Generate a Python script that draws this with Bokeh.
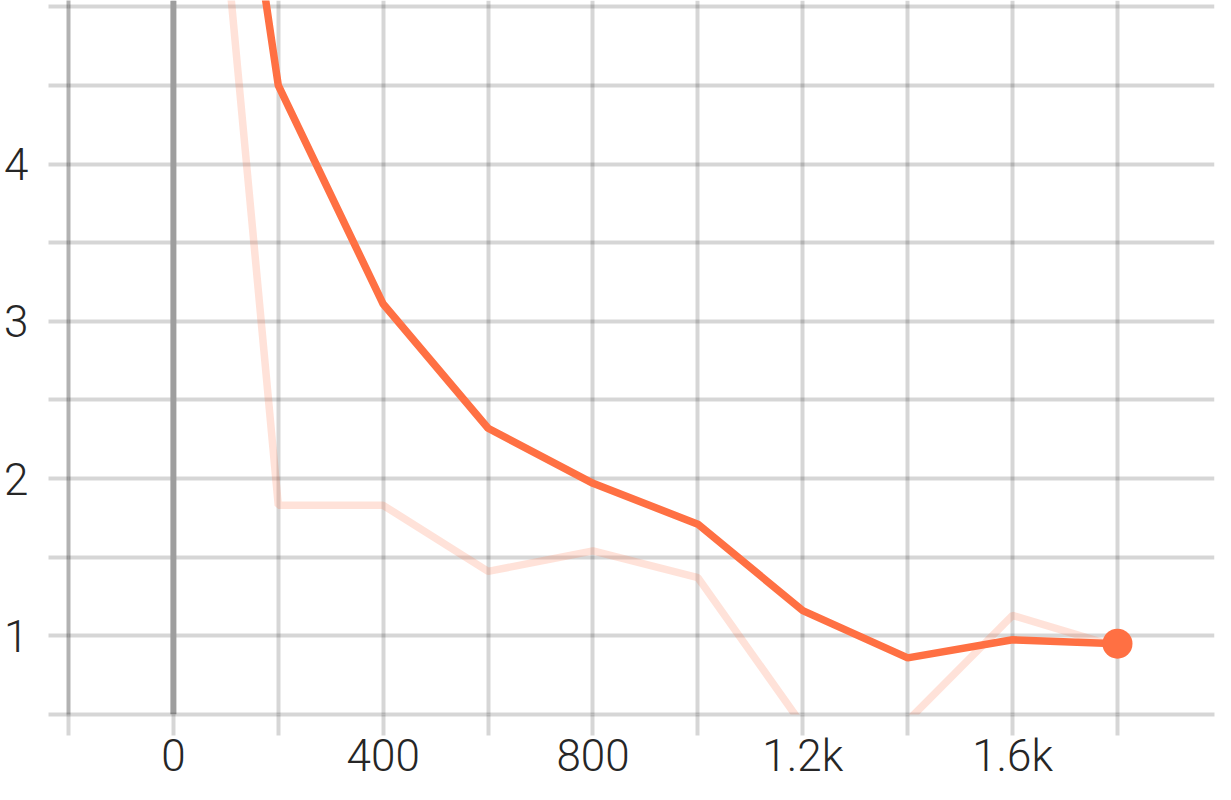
from bokeh.plotting import figure
from bokeh.models import FixedTicker, Span, Range1d
from bokeh.embed import file_html
from bokeh.resources import INLINE

# ---- data ----
steps = [0, 200, 400, 600, 800, 1000, 1200, 1400, 1600, 1800]
raw_values = [9.0, 1.83, 1.83, 1.41, 1.54, 1.37, 0.43, 0.46, 1.13, 0.93]
smoothed_values = [9.0, 4.5, 3.11, 2.32, 1.97, 1.71, 1.16, 0.86, 0.975, 0.95]

x_ticks = [-200, 0, 200, 400, 600, 800, 1000, 1200, 1400, 1600, 1800, 2000]
x_labels = {0: "0", 400: "400", 800: "800", 1200: "1.2k", 1600: "1.6k"}
y_ticks = [0.5, 1.0, 1.5, 2.0, 2.5, 3.0, 3.5, 4.0, 4.5, 5.0]
y_labels = {1.0: "1", 2.0: "2", 3.0: "3", 4.0: "4"}

LINE_COLOR = "#ff7043"
GRID_ALPHA = 0.16
FONT = "Roboto Light"

p = figure(width=1215, height=784, output_backend="svg", toolbar_location=None,
           x_range=Range1d(-200, 1985), y_range=Range1d(0.5, 5.04),
           min_border_left=68, min_border_right=1, min_border_top=0, min_border_bottom=70)
p.outline_line_color = None
p.background_fill_color = "white"
p.border_fill_color = "white"

# axes / ticks
p.xaxis.ticker = FixedTicker(ticks=x_ticks)
p.yaxis.ticker = FixedTicker(ticks=y_ticks)
p.xaxis.major_label_overrides = {t: x_labels.get(t, "") for t in x_ticks}
p.yaxis.major_label_overrides = {t: y_labels.get(t, "") for t in y_ticks}

for ax in (p.xaxis, p.yaxis):
    ax.major_tick_in = 0
    ax.major_tick_line_color = "black"
    ax.major_tick_line_alpha = GRID_ALPHA
    ax.major_tick_line_width = 4
    ax.minor_tick_line_color = None
    ax.major_label_text_font = FONT
    ax.major_label_text_font_size = "44px"
    ax.major_label_text_color = "#262626"

p.xaxis.major_tick_out = 21
p.xaxis.major_label_standoff = -6
p.xaxis.axis_line_color = "black"
p.xaxis.axis_line_alpha = GRID_ALPHA
p.xaxis.axis_line_width = 4
p.yaxis.major_tick_out = 20
p.yaxis.major_label_standoff = 20
p.yaxis.axis_line_color = "black"
p.yaxis.axis_line_alpha = 0.3
p.yaxis.axis_line_width = 4

# grid
for g in (p.xgrid, p.ygrid):
    g.grid_line_color = "black"
    g.grid_line_alpha = GRID_ALPHA
    g.grid_line_width = 4

# zero line
p.add_layout(Span(location=0, dimension="height", line_color="#9e9e9e",
                  line_width=6, level="underlay"))

# series
p.line(steps, raw_values, line_color=LINE_COLOR, line_alpha=0.2, line_width=7.5)
p.line(steps, smoothed_values, line_color=LINE_COLOR, line_width=7.5)
p.scatter([steps[-1]], [smoothed_values[-1]], size=30, fill_color=LINE_COLOR,
          line_color=None)

open("out.html", "w").write(file_html(p, INLINE))
